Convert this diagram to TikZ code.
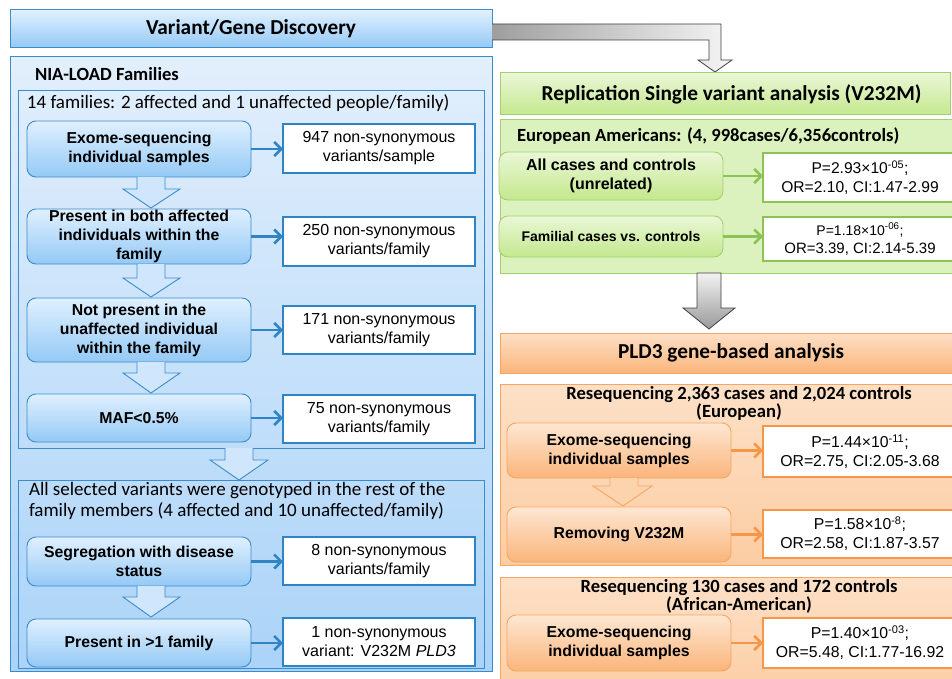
\documentclass[tikz,border=0pt]{standalone}
\usepackage{fontspec}
\setmainfont{Carlito}
\newfontfamily\arial{Liberation Sans}
\usetikzlibrary{arrows.meta,calc}
\definecolor{blueB}{HTML}{3A8CCD}
\definecolor{blueR}{HTML}{2E84C4}
\definecolor{blueT}{HTML}{E0F0FF}
\definecolor{blueM}{HTML}{94C9F5}
\definecolor{blueCT}{HTML}{E2EFFC}
\definecolor{blueCB}{HTML}{ABD3F8}
\definecolor{blueAr}{HTML}{CFE6FC}
\definecolor{grnB}{HTML}{A3D171}
\definecolor{grnR}{HTML}{8DC255}
\definecolor{grnT}{HTML}{EAF7D6}
\definecolor{grnM}{HTML}{C4E88E}
\definecolor{grnC}{HTML}{DCF2BE}
\definecolor{orB}{HTML}{F7A660}
\definecolor{orR}{HTML}{F79646}
\definecolor{orT}{HTML}{FEE7D3}
\definecolor{orM}{HTML}{FAB57B}
\definecolor{orCT}{HTML}{FDE0C7}
\definecolor{orCB}{HTML}{FCCDA3}
\definecolor{orAr}{HTML}{FDD3AE}
\begin{document}
\begin{tikzpicture}[x=1pt,y=-1pt,
  every node/.style={inner sep=0pt, outer sep=0pt},
  hdrfont/.style={font=\fontsize{21.3}{24}\selectfont\bfseries},
  ttlfont/.style={font=\fontsize{18.6}{14}\selectfont\bfseries},
  plainfont/.style={font=\fontsize{19}{21}\selectfont},
  bluehdr/.style={draw=blueB, line width=1pt, top color=blueT, bottom color=blueM, hdrfont},
  bluecont/.style={draw=blueB, line width=1pt, top color=blueCT, bottom color=blueCB},
  blueinner/.style={draw=blueB, line width=0.8pt},
  rbox/.style={rounded corners=9pt, line width=0.9pt, align=center, minimum width=224pt,
     font=\arial\bfseries\fontsize{15.8}{19}\selectfont},
  brbox/.style={rbox, draw=blueB, top color=blueT, bottom color=blueM},
  grbox/.style={rbox, draw=grnB, top color=grnT, bottom color=grnM},
  orbox/.style={rbox, draw=orB, top color=orT, bottom color=orM},
  res/.style={fill=white, line width=2.6pt, align=center,
     font=\arial\fontsize{16}{19}\selectfont},
  bres/.style={res, draw=blueR, minimum width=192pt},
  gres/.style={res, draw=grnR, minimum width=194pt},
  ores/.style={res, draw=orR, minimum width=194pt, font=\arial\fontsize{15.8}{19}\selectfont},
  conn/.style={line width=2.6pt, -{Straight Barb[length=7pt,width=14pt,line width=2.6pt]}},
  bconn/.style={conn, draw=blueR},
  gconn/.style={conn, draw=grnR},
  oconn/.style={conn, draw=orR},
  barrowB/.style={draw=blueB, line width=0.9pt, fill=blueAr, line join=miter},
  barrowO/.style={draw=orB, line width=0.9pt, fill=orAr, line join=miter},
  grayarr/.style={draw=black!75, line width=0.8pt, line join=miter}
]
\useasboundingbox (0,0) rectangle (952,679);
\clip (0,0) rectangle (952,679);
\fill[white] (0,0) rectangle (952,679);

% ---------- left column ----------
\node[bluehdr, anchor=north west, minimum width=482pt, minimum height=38pt] (vgd) at (10,10) {Variant/Gene Discovery};

\node[bluecont, anchor=north west, minimum width=482pt, minimum height=614pt] (nia) at (10,57) {};
\node[ttlfont, anchor=west] (niat) at (35,74) {NIA-LOAD Families};

\node[blueinner, anchor=north west, minimum width=466pt, minimum height=358pt] (in1) at (18,90) {};
\node[plainfont, anchor=west] (in1t) at (27,103) {14 families: 2 affected and 1 unaffected people/family)};

\node[brbox, minimum height=56pt] (e1) at (139,149) {Exome-sequencing\\individual samples};
\node[bres, minimum height=49pt] (r1) at (379,148.5) {947 non-synonymous\\variants/sample};

\node[brbox, minimum height=55pt] (p2) at (139,236.5) {Present in both affected\\individuals within the\\family};
\node[bres, minimum height=49pt] (r2) at (379,241.5) {250 non-synonymous\\variants/family};

\node[brbox, minimum height=64pt] (n3) at (139,330) {Not present in the\\unaffected individual\\within the family};
\node[bres, minimum height=48pt] (r3) at (379,330) {171 non-synonymous\\variants/family};

\node[brbox, minimum height=48pt] (m4) at (139,418) {MAF<0.5\%};
\node[bres, minimum height=48pt] (r4) at (379,419) {75 non-synonymous\\variants/family};

\node[blueinner, anchor=north west, minimum width=466pt, minimum height=188pt] (in2) at (18,480) {};
\node[plainfont, anchor=north west, align=left] (in2t) at (29,482) {All selected variants were genotyped in the rest of the\\family members (4 affected and 10 unaffected/family)};

\node[brbox, minimum height=49pt] (s5) at (139,561.5) {Segregation with disease\\status};
\node[bres, minimum height=48pt] (r5) at (379,561) {8 non-synonymous\\variants/family};

\node[brbox, minimum height=48pt] (f6) at (139,643) {Present in >1 family};
\node[bres, minimum height=48pt] (r6) at (379,642) {1 non-synonymous\\variant: V232M \textit{PLD3}};

\foreach \a/\b in {e1/r1,p2/r2,n3/r3,m4/r4,s5/r5,f6/r6}
  \draw[bconn] (\a.east) -- (\a.east -| \b.west);

% blue block arrows
\foreach \yt/\yh/\yb in {177/189/208, 264/278/297, 362/373/393, 586/597/617}
  \draw[barrowB] (137,\yt) -- (137,\yh) -- (123,\yh) -- (151,\yb) -- (180,\yh) -- (165,\yh) -- (165,\yt);
\draw[barrowB] (225,448) -- (225,460) -- (210,460) -- (239,480) -- (268,460) -- (253,460) -- (253,448);

% ---------- gray bent arrow ----------
\shade[left color=black!38, right color=black!4] (492,24) -- (721,24) -- (721,60) -- (732,60) -- (715,72) -- (698,60) -- (709,60) -- (709,40) -- (492,40) -- cycle;
\draw[grayarr] (vgd.east |- 0,24) -- (721,24) -- (721,60) -- (732,60) -- (715,72) -- (698,60) -- (709,60) -- (709,40) -- (vgd.east |- 0,40);

% ---------- green part ----------
\node[draw=grnB, line width=1pt, top color=grnT, bottom color=grnM, hdrfont, anchor=north west, minimum width=450pt, minimum height=42pt] (rep) at (500,73) {\hspace*{13pt}Replication Single variant analysis (V232M)};

\node[draw=grnB, line width=1pt, fill=grnC, anchor=north west, minimum width=460pt, minimum height=153pt] (eur) at (500,120) {};
\node[ttlfont, anchor=west] (eurt) at (517,136) {European Americans: (4, 998cases/6,356controls)};

\node[grbox, minimum height=48pt, font=\arial\bfseries\fontsize{16}{19}\selectfont] (g1) at (611,176) {All cases and controls\\(unrelated)};
\node[gres, minimum height=49pt, font=\arial\fontsize{15.6}{19}\selectfont] (gr1) at (860,177.5) {P=2.93×10\textsuperscript{-05};\\OR=2.10, CI:1.47-2.99};

\node[grbox, minimum height=41pt, font=\arial\bfseries\fontsize{14}{17}\selectfont] (g2) at (611,236.5) {Familial cases vs. controls};
\node[gres, minimum height=44pt, font=\arial\fontsize{15}{18}\selectfont] (gr2) at (860,239) {{\fontsize{14}{16}\selectfont P=1.18×10\textsuperscript{-06};}\\OR=3.39, CI:2.14-5.39};

\draw[gconn] (g1.east) -- (g1.east -| gr1.west);
\draw[gconn] (g2.east) -- (g2.east -| gr2.west);

% gray down arrow
\draw[grayarr, top color=black!5, bottom color=black!40] (697,273) -- (697,308) -- (683,308) -- (709,329) -- (735,308) -- (721,308) -- (721,273) -- cycle;

% ---------- orange part ----------
\node[draw=orB, line width=1pt, top color=orCT, bottom color=orM, hdrfont, anchor=north west, minimum width=462pt, minimum height=40pt] (pld) at (500,333) {PLD3 gene-based analysis};

\node[draw=orB, line width=1pt, top color=orCT, bottom color=orCB, anchor=north west, minimum width=478pt, minimum height=181pt] (eu2) at (500,384) {};
\node[ttlfont, align=center] (eu2t) at (739,403) {Resequencing 2,363 cases and 2,024 controls\\(European)};

\node[orbox, minimum height=55pt] (o1) at (619,450.5) {Exome-sequencing\\individual samples};
\node[ores, minimum height=51pt] (or1) at (860,451.5) {P=1.44×10\textsuperscript{-11};\\OR=2.75, CI:2.05-3.68};

\draw[barrowO] (610,478) -- (610,486) -- (593,486) -- (623,506) -- (652,486) -- (638,486) -- (638,478);

\node[orbox, minimum height=55pt] (o2) at (619,534.5) {Removing V232M};
\node[ores, minimum height=48pt] (or2) at (860,534) {P=1.58×10\textsuperscript{-8};\\OR=2.58, CI:1.87-3.57};

\node[draw=orB, line width=1pt, top color=orCT, bottom color=orCB, anchor=north west, minimum width=478pt, minimum height=120pt] (aa) at (500,577) {};
\node[ttlfont, align=center] (aat) at (739,596) {Resequencing 130 cases and 172 controls\\(African-American)};

\node[orbox, minimum height=56pt] (o3) at (619,643) {Exome-sequencing\\individual samples};
\node[ores, minimum height=50pt] (or3) at (860,643) {P=1.40×10\textsuperscript{-03};\\OR=5.48, CI:1.77-16.92};

\draw[oconn] (o1.east) -- (o1.east -| or1.west);
\draw[oconn] (o2.east) -- (o2.east -| or2.west);
\draw[oconn] (o3.east) -- (o3.east -| or3.west);
\end{tikzpicture}
\end{document}
